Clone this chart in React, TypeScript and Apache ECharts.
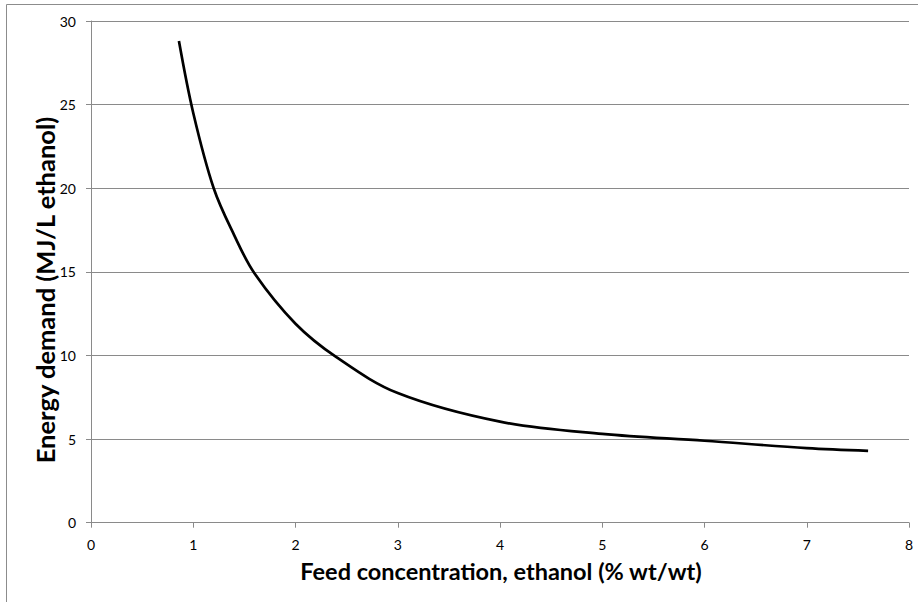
import React, { useEffect, useRef } from "react";
import * as echarts from "echarts";

const feedConcentration = [0.86, 1.0, 1.2, 1.4, 1.6, 2.0, 2.4, 3.0, 4.0, 5.0, 6.0, 7.0, 7.6];
const energyDemand = [28.8, 24.5, 20.0, 17.2, 14.9, 11.9, 9.9, 7.75, 6.04, 5.31, 4.9, 4.46, 4.3];
const xTitle = "Feed concentration, ethanol (% wt/wt)";
const yTitle = "Energy demand (MJ/L ethanol)";

const FONT = "Lato, 'Open Sans', sans-serif";
const GRID_COLOR = "#8a8a8a";

export default function App() {
  const ref = useRef<HTMLDivElement>(null);
  useEffect(() => {
    if (!ref.current) return;
    const chart = echarts.init(ref.current, null, { renderer: "svg" });
    const data = feedConcentration.map((x, i) => [x, energyDemand[i]]);
    chart.setOption({
      animation: false,
      backgroundColor: "#ffffff",
      grid: { left: 91, top: 21, width: 818, height: 501.7, containLabel: false },
      xAxis: {
        type: "value",
        min: 0,
        max: 8,
        interval: 1,
        axisLine: { show: true, lineStyle: { color: GRID_COLOR, width: 1 } },
        axisTick: { show: true, length: 5, lineStyle: { color: GRID_COLOR } },
        axisLabel: { color: "#000", fontFamily: FONT, fontSize: 14, margin: 15 },
        splitLine: { show: false },
      },
      yAxis: {
        type: "value",
        min: 0,
        max: 30,
        interval: 5,
        axisLine: { show: true, lineStyle: { color: GRID_COLOR, width: 1 } },
        axisTick: { show: true, length: 5, lineStyle: { color: GRID_COLOR } },
        axisLabel: { color: "#000", fontFamily: FONT, fontSize: 14, margin: 15 },
        splitLine: { show: true, lineStyle: { color: GRID_COLOR, width: 1 } },
      },
      graphic: [
        { type: "line", shape: { x1: 6.5, y1: 4.5, x2: 918, y2: 4.5 }, style: { stroke: "#8c8c8c", lineWidth: 1 } },
        { type: "line", shape: { x1: 6.5, y1: 4.5, x2: 6.5, y2: 602 }, style: { stroke: "#8c8c8c", lineWidth: 1 } },
        {
          type: "text",
          x: 501,
          y: 571,
          style: { text: xTitle, fontFamily: FONT, fontWeight: "bold", fontSize: 23.5, fill: "#000", align: "center", verticalAlign: "middle" },
        },
        {
          type: "text",
          x: 45,
          y: 290,
          rotation: Math.PI / 2,
          style: { text: yTitle, fontFamily: FONT, fontWeight: "bold", fontSize: 25.5, fill: "#000", align: "center", verticalAlign: "middle" },
        },
      ],
      series: [
        {
          type: "line",
          data,
          smooth: 0.35,
          showSymbol: false,
          symbol: "none",
          lineStyle: { color: "#000", width: 2.7 },
        },
      ],
    });
    return () => chart.dispose();
  }, []);
  return <div ref={ref} style={{ position: "fixed", left: 0, top: 0, width: 918, height: 602 }} />;
}
